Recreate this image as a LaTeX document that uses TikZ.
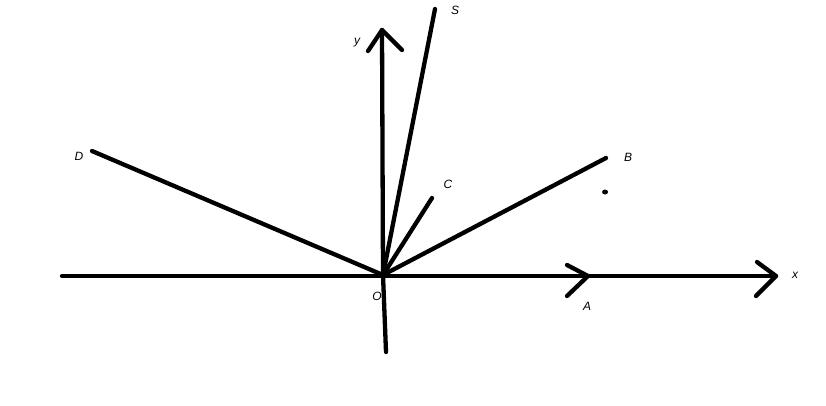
\documentclass[tikz,border=0pt]{standalone}
\usepackage{fontspec}
\setmainfont{Liberation Sans}
\begin{document}
\begin{tikzpicture}[x=1pt,y=-1pt,
  ln/.style={line width=4.3pt,line cap=round,line join=round},
  lbl/.style={font=\fontsize{12}{14}\selectfont\itshape,inner sep=0pt}]
\useasboundingbox (0,0) rectangle (826,406);
\coordinate (O) at (383,275);
\coordinate (xl) at (62,276);
\coordinate (xr) at (776,276);
\coordinate (yt) at (382,30);
\coordinate (yb) at (386,352);
\coordinate (Se) at (435,9);
\coordinate (De) at (92,151);
\coordinate (Be) at (606,158);
\coordinate (Ce) at (432,198);
\coordinate (At) at (588,276);
% axes
\draw[ln] (xl) -- (xr);
\draw[ln] (yb) -- (O) -- (yt);
% x arrow chevron
\draw[ln] (757,262) -- (xr) -- (756,296);
% y arrow chevron
\draw[ln] (368,51) -- (yt) -- (402,50);
% A chevron
\draw[ln] (567,265) -- (At) -- (567,296);
% rays
\draw[ln] (O) -- (Se);
\draw[ln] (O) -- (De);
\draw[ln] (O) -- (Be);
\draw[ln] (O) -- (Ce);
% dot
\fill (605,192) ellipse (3 and 2.5);
% labels
\node[lbl] (lS) at (455,10) {S};
\node[lbl] (ly) at (357,43) {y};
\node[lbl] (lD) at (79,156) {D};
\node[lbl] (lB) at (628,157) {B};
\node[lbl] (lC) at (448,184) {C};
\node[lbl] (lx) at (795,275) {x};
\node[lbl] (lA) at (587,306) {A};
\node[lbl] (lO) at (377,296) {O};
\end{tikzpicture}
\end{document}
